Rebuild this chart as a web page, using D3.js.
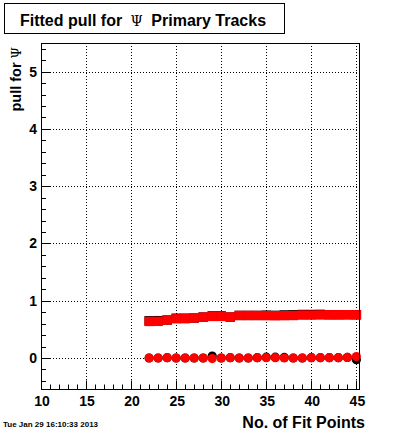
<!DOCTYPE html>
<html><head><meta charset="utf-8">
<script src="https://cdn.jsdelivr.net/npm/d3@7"></script>
<style>body{margin:0;background:#fff}svg{display:block}</style>
</head><body>
<script>
const xs = [22,23,24,25,26,27,28,29,30,31,32,33,34,35,36,37,38,39,40,41,42,43,44,45];
const pullRed   = [0.638,0.640,0.663,0.685,0.686,0.698,0.715,0.726,0.726,0.715,0.743,0.743,0.743,0.740,0.738,0.740,0.742,0.750,0.750,0.752,0.755,0.755,0.756,0.755];
const pullBlack = [0.650,0.652,0.663,0.695,0.696,0.698,0.715,0.735,0.735,0.715,0.743,0.743,0.743,0.748,0.745,0.752,0.755,0.760,0.760,0.762,0.755,0.755,0.756,0.755];
const zeroRed   = [0.000,0.000,0.005,0.000,0.000,0.000,0.000,-0.010,0.000,0.005,0.000,0.000,0.005,0.005,0.005,0.000,0.000,0.000,0.005,0.005,0.005,0.005,0.010,0.025];
const zeroBlack = [0.000,0.000,0.005,0.000,0.000,0.000,0.000,0.035,0.000,0.005,0.000,0.000,0.005,0.015,0.015,0.010,0.000,0.000,0.005,0.005,0.005,0.005,0.010,-0.030];
const xTicks = [10,15,20,25,30,35,40,45];
const yTicks = [0,1,2,3,4,5];
const titleParts = ["Fitted pull for ", "Ψ", " Primary Tracks"];
const yTitleParts = ["pull for ", "Ψ"];
const xTitle = "No. of Fit Points";
const dateText = "Tue Jan 29 16:10:33 2013";

const W = 400, H = 433;
const svg = d3.select("body").append("svg").attr("width", W).attr("height", H);
const L = 41, R = 360, T = 43, B = 389.5;
const x = d3.scaleLinear().domain([10, 45.4]).range([L, R]);
const y = d3.scaleLinear().domain([-0.55, 5.5]).range([B, T]);
const font = "'Liberation Sans', Arial, Helvetica, sans-serif";

// title box
svg.append("rect").attr("x", 4.5).attr("y", 3.5).attr("width", 280).attr("height", 30)
  .attr("fill", "#fff").attr("stroke", "#000").attr("stroke-width", 1);
const tt = svg.append("text").attr("x", 143).attr("y", 25.5).attr("text-anchor", "middle")
  .attr("font-family", font).attr("font-weight", "bold").attr("font-size", 16);
tt.append("tspan").text(titleParts[0]);
tt.append("tspan").attr("font-family", "'DejaVu Serif', serif").attr("font-weight", "normal").attr("font-size", 14).attr("dx", 4).text(titleParts[1]);
tt.append("tspan").attr("dx", 4).text(titleParts[2]);

// grid
const g = svg.append("g");
g.selectAll(".vg").data(xTicks.filter(d => d > 10)).enter().append("line")
  .attr("x1", d => Math.round(x(d)) + 0.5).attr("x2", d => Math.round(x(d)) + 0.5)
  .attr("y1", T).attr("y2", B).attr("stroke", "#000").attr("stroke-dasharray", "1,2");
g.selectAll(".hg").data(yTicks).enter().append("line")
  .attr("y1", d => Math.round(y(d)) + 0.5).attr("y2", d => Math.round(y(d)) + 0.5)
  .attr("x1", L).attr("x2", R).attr("stroke", "#000").attr("stroke-dasharray", "1,2");

// axes ticks
const xMinor = d3.range(10, 46, 1);
g.selectAll(".xt").data(xMinor).enter().append("line")
  .attr("x1", d => Math.round(x(d)) + 0.5).attr("x2", d => Math.round(x(d)) + 0.5)
  .attr("y1", B).attr("y2", d => d % 5 === 0 ? B - 9 : B - 5)
  .attr("stroke", "#000");
const yMinor = d3.range(-0.4, 5.5, 0.2).map(v => Math.round(v * 10) / 10);
g.selectAll(".yt").data(yMinor).enter().append("line")
  .attr("y1", d => Math.round(y(d)) + 0.5).attr("y2", d => Math.round(y(d)) + 0.5)
  .attr("x1", L).attr("x2", d => Math.abs(d - Math.round(d)) < 1e-6 ? L + 9 : L + 5)
  .attr("stroke", "#000");

// tick labels
g.selectAll(".xl").data(xTicks).enter().append("text")
  .attr("x", d => x(d) + 1).attr("y", 406).attr("text-anchor", "middle")
  .attr("font-family", font).attr("font-weight", "bold").attr("font-size", 14)
  .text(d => d);
g.selectAll(".yl").data(yTicks).enter().append("text")
  .attr("x", 37).attr("y", d => y(d) + 5).attr("text-anchor", "end")
  .attr("font-family", font).attr("font-weight", "bold").attr("font-size", 14)
  .text(d => d);

// axis titles
svg.append("text").attr("x", 365).attr("y", 428).attr("text-anchor", "end")
  .attr("font-family", font).attr("font-weight", "bold").attr("font-size", 16).text(xTitle);
const yt = svg.append("text").attr("transform", "translate(20.5,47) rotate(-90)").attr("text-anchor", "end")
  .attr("font-family", font).attr("font-weight", "bold").attr("font-size", 14.5);
yt.append("tspan").text(yTitleParts[0]);
yt.append("tspan").attr("font-family", "'DejaVu Serif', serif").attr("font-weight", "normal").attr("font-size", 13).text(yTitleParts[1]);

// date
svg.append("text").attr("x", 3).attr("y", 427).attr("font-family", font).attr("font-weight", "bold")
  .attr("font-size", 8).text(dateText);

// data
const plot = svg.append("g");
const sq = 9.4;
function squares(vals, col) {
  plot.selectAll(null).data(xs.map((d, i) => [d, vals[i]])).enter().append("rect")
    .attr("x", d => x(d[0]) - sq / 2).attr("y", d => y(d[1]) - sq / 2)
    .attr("width", sq).attr("height", sq).attr("fill", col);
}
function circles(vals, col) {
  plot.selectAll(null).data(xs.map((d, i) => [d, vals[i]])).enter().append("circle")
    .attr("cx", d => x(d[0])).attr("cy", d => y(d[1])).attr("r", 4.6).attr("fill", col);
}
squares(pullBlack, "#000");
circles(zeroBlack, "#000");
squares(pullRed, "#ff0000");
circles(zeroRed, "#ff0000");

// frame
svg.append("rect").attr("x", L + 0.5).attr("y", T + 0.5).attr("width", R - L - 1).attr("height", B - T - 0.5)
  .attr("fill", "none").attr("stroke", "#000").attr("stroke-width", 1);
</script>
</body></html>
